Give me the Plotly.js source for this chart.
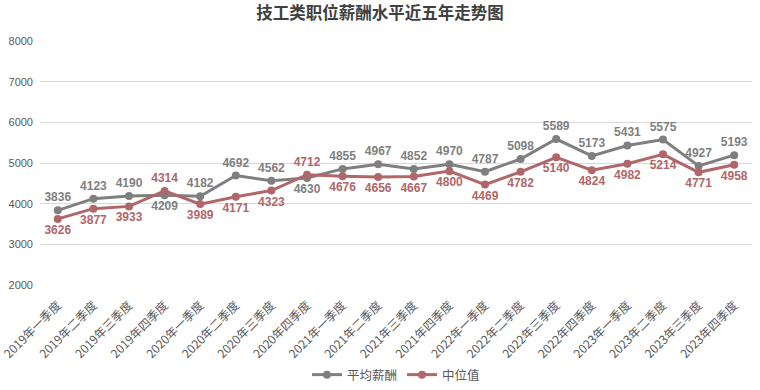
<!DOCTYPE html>
<html><head><meta charset="utf-8">
<script src="https://cdn.plot.ly/plotly-3.0.1.min.js"></script>
<style>html,body{margin:0;padding:0;background:#fff;}#chart{width:760px;height:390px;}</style>
</head><body><div id="chart"></div>
<script>
const categories = ["2019年一季度","2019年二季度","2019年三季度","2019年四季度","2020年一季度","2020年二季度","2020年三季度","2020年四季度","2021年一季度","2021年二季度","2021年三季度","2021年四季度","2022年一季度","2022年二季度","2022年三季度","2022年四季度","2023年一季度","2023年二季度","2023年三季度","2023年四季度"];
const avgSalary = [3836,4123,4190,4209,4182,4692,4562,4630,4855,4967,4852,4970,4787,5098,5589,5173,5431,5575,4927,5193];
const medianSalary = [3626,3877,3933,4314,3989,4171,4323,4712,4676,4656,4667,4800,4469,4782,5140,4824,4982,5214,4771,4958];
const avgLabelPos = ["top center","top center","top center","bottom center","top center","top center","top center","bottom center","top center","top center","top center","top center","top center","top center","top center","top center","top center","top center","top center","top center"];
const medLabelPos = ["bottom center","bottom center","bottom center","top center","bottom center","bottom center","bottom center","top center","bottom center","bottom center","bottom center","bottom center","bottom center","bottom center","bottom center","bottom center","bottom center","bottom center","bottom center","bottom center"];
const fontFam = '"Noto Sans CJK SC", "Liberation Sans", sans-serif';
const avgColor = '#7f7f7f', medColor = '#b0676a';
const traces = [
 {x: categories, y: avgSalary, name: '平均薪酬', type: 'scatter', mode: 'lines+markers+text',
  line: {color: avgColor, width: 3}, marker: {color: avgColor, size: 8},
  text: avgSalary.map(String), textposition: avgLabelPos,
  textfont: {color: avgColor, size: 12, family: '"Liberation Sans", sans-serif', weight: 'bold'}, cliponaxis: false},
 {x: categories, y: medianSalary, name: '中位值', type: 'scatter', mode: 'lines+markers+text',
  line: {color: medColor, width: 3}, marker: {color: medColor, size: 8},
  text: medianSalary.map(String), textposition: medLabelPos,
  textfont: {color: medColor, size: 12, family: '"Liberation Sans", sans-serif', weight: 'bold'}, cliponaxis: false}
];
const layout = {
 width: 760, height: 390,
 margin: {l: 40, r: 8, t: 41, b: 105},
 paper_bgcolor: '#fff', plot_bgcolor: '#fff',
 title: {text: '<b>技工类职位薪酬水平近五年走势图</b>', x: 0.5, xanchor: 'center', y: 0.965, yanchor: 'middle',
   font: {family: fontFam, size: 16.5, color: '#404040'}},
 xaxis: {type: 'category', range: [-0.5, 19.5], tickangle: -45, showgrid: false, showline: false, zeroline: false, ticks: '',
   ticklabelstandoff: 10,
   tickfont: {family: fontFam, size: 12, color: '#595959'}, automargin: false},
 yaxis: {range: [2000, 8000], dtick: 1000, showgrid: true, gridcolor: '#d9d9d9', gridwidth: 1, zeroline: false,
   showline: false, ticks: '', ticklabelstandoff: 6,
   tickfont: {family: '"Liberation Sans", sans-serif', size: 11, color: '#595959'}, automargin: false},
 showlegend: true,
 legend: {orientation: 'h', x: 0.5, xanchor: 'center', xref: 'paper', yref: 'container', y: 0.0, yanchor: 'bottom',
   font: {family: fontFam, size: 12.5, color: '#595959'}}
};
Plotly.newPlot('chart', traces, layout, {displayModeBar: false, staticPlot: true});
</script></body></html>
